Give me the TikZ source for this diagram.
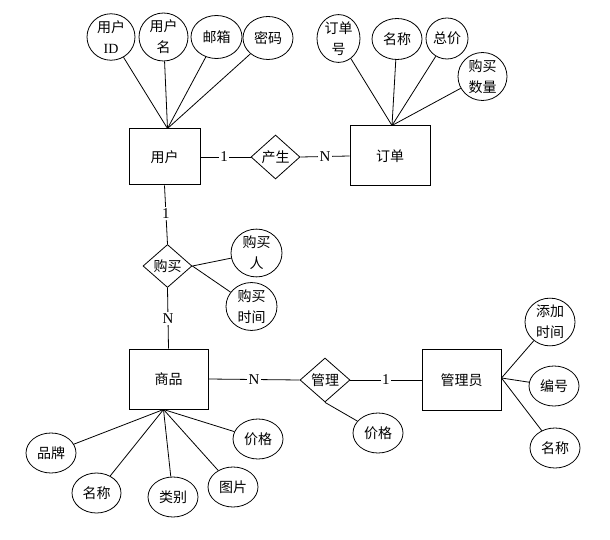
\documentclass[tikz,border=0pt]{standalone}
\usepackage{fontspec}
\setmainfont{Liberation Serif}
\newfontfamily\cjk{Noto Sans CJK SC}
\usetikzlibrary{shapes.geometric}
\begin{document}
\begin{tikzpicture}[x=1pt,y=-1pt,
  ent/.style={draw, line width=1pt, inner sep=0pt, font=\cjk\fontsize{14}{16}\selectfont},
  rel/.style={draw, diamond, line width=0.8pt, inner sep=0pt, minimum width=49pt, minimum height=44pt, font=\cjk\fontsize{14}{16}\selectfont},
  attr/.style={draw, ellipse, line width=0.8pt, inner sep=0pt, minimum width=50pt, minimum height=41pt, align=center, font=\cjk\fontsize{14}{21}\selectfont},
  lbl/.style={fill=white, inner sep=1.5pt, font=\fontsize{15}{17}\selectfont},
  conn/.style={line width=0.8pt}]
\useasboundingbox (0,0) rectangle (610,540);
% entities
\node[ent, minimum width=71pt, minimum height=56pt] (user) at (164.5,157) {用户};
\node[ent, minimum width=80pt, minimum height=60pt] (order) at (390,156) {订单};
\node[ent, minimum width=79pt, minimum height=60pt] (goods) at (168.5,379) {商品};
\node[ent, minimum width=79pt, minimum height=61pt] (admin) at (461.5,380) {管理员};
% relationships
\node[rel] (gen) at (275.5,157) {产生};
\node[rel, minimum height=43pt] (buy) at (167.5,266) {购买};
\node[rel, minimum width=50pt] (mgr) at (325,380) {管理};
% user attributes
\node[attr, minimum width=48pt, minimum height=43pt] (uid) at (111,37) {用户\\{\rmfamily ID}};
\node[attr, minimum width=49pt, minimum height=43pt] (uname) at (163.5,37) {用户\\名};
\node[attr, minimum width=51pt, minimum height=43pt] (umail) at (216.5,37) {邮箱};
\node[attr, minimum width=50pt, minimum height=43pt] (upwd) at (268,38) {密码};
% order attributes
\node[attr, minimum width=43pt] (ono) at (338.5,38.5) {订单\\号};
\node[attr] (oname) at (397,39) {名称};
\node[attr, minimum width=42pt] (oprice) at (447,38.5) {总价};
\node[attr, minimum width=49pt, minimum height=39pt] (oqty) at (482.5,76.5) {购买\\数量};
% buy attributes
\node[attr, minimum width=51pt, minimum height=40pt] (buyer) at (256.5,253) {购买\\人};
\node[attr, minimum width=51pt] (btime) at (251.5,306.5) {购买\\时间};
% goods attributes
\node[attr, minimum width=50pt, minimum height=40pt] (gbrand) at (51,453) {品牌};
\node[attr, minimum width=49pt, minimum height=40pt] (gname) at (96.5,493) {名称};
\node[attr, minimum width=50pt, minimum height=40pt] (gcat) at (173,497) {类别};
\node[attr, minimum width=50pt, minimum height=40pt] (gpic) at (233,487) {图片};
\node[attr, minimum width=50pt, minimum height=40pt] (gprice) at (258,439) {价格};
% manage attribute
\node[attr, minimum width=50pt, minimum height=40pt] (mprice) at (378,433) {价格};
% admin attributes
\node[attr, minimum width=50pt, minimum height=40pt] (atime) at (550,322) {添加\\时间};
\node[attr, minimum width=50pt, minimum height=40pt] (ano) at (554,386) {编号};
\node[attr, minimum width=50pt, minimum height=40pt] (aname) at (555,448) {名称};
% convergence points
\coordinate (ut) at ([xshift=3pt]user.north);
\coordinate (ot) at ([xshift=2pt]order.north);
\coordinate (gb) at ([xshift=-5pt]goods.south);
\coordinate (ae) at ([yshift=2pt]admin.east);
% attribute lines
\foreach \a in {uid,uname,umail,upwd} \draw[conn] (\a) -- (ut);
\foreach \a in {ono,oname,oprice,oqty} \draw[conn] (\a) -- (ot);
\foreach \a in {gbrand,gname,gcat,gpic,gprice} \draw[conn] (\a) -- (gb);
\foreach \a in {atime,ano,aname} \draw[conn] (\a) -- (ae);
\draw[conn] (buy.east) -- (buyer);
\draw[conn] (buy.east) -- (btime);
\draw[conn] (mgr.south) -- (mprice);
% relationship lines
\draw[conn] (user.east) -- node[lbl, pos=0.47] {1} (gen.west);
\draw[conn] (gen.east) -- node[lbl] {N} (order.west);
\draw[conn] (user.south) -- node[lbl, pos=0.48] {1} (buy.north);
\draw[conn] (buy.south) -- node[lbl] {N} (goods.north);
\draw[conn] (goods.east) -- node[lbl] {N} (mgr.west);
\draw[conn] (mgr.east) -- node[lbl] {1} (admin.west);
\end{tikzpicture}
\end{document}
